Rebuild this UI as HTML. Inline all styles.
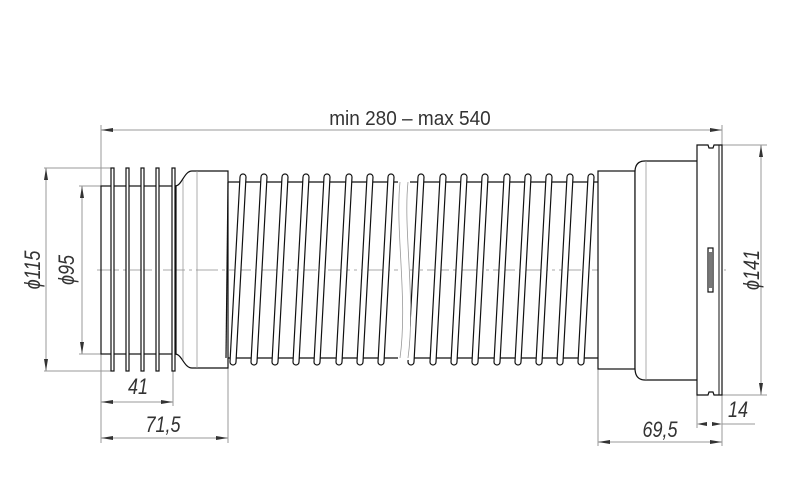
<!DOCTYPE html>
<html><head><meta charset="utf-8"><style>
html,body{margin:0;padding:0;background:#fff;}
svg{display:block;}
text{font-family:"Liberation Sans",sans-serif;fill:#333;}
</style></head><body>
<svg width="800" height="481" viewBox="0 0 800 481" xmlns="http://www.w3.org/2000/svg">
<defs>
<marker id="a" viewBox="0 0 12 6" refX="12" refY="3" markerWidth="12" markerHeight="6" orient="auto-start-reverse" markerUnits="userSpaceOnUse"><path d="M0,1 L12,3 L0,5 Z" fill="#333"/></marker>
</defs>
<g stroke="#999" stroke-width="1" fill="none">
<line x1="101" y1="125" x2="101" y2="443"/>
<line x1="722" y1="125" x2="722" y2="446"/>
<line x1="44" y1="168" x2="112" y2="168"/>
<line x1="44" y1="371" x2="112" y2="371"/>
<line x1="79" y1="186" x2="101" y2="186"/>
<line x1="79" y1="354" x2="101" y2="354"/>
<line x1="173" y1="371" x2="173" y2="406"/>
<line x1="228" y1="368" x2="228" y2="443"/>
<line x1="598" y1="368" x2="598" y2="446"/>
<line x1="697" y1="395" x2="697" y2="428"/>
<line x1="722" y1="145" x2="767" y2="145"/>
<line x1="722" y1="395" x2="767" y2="395"/>
<line x1="722" y1="424" x2="755" y2="424"/>
</g>
<g stroke="#999" stroke-width="1" fill="none" marker-start="url(#a)" marker-end="url(#a)">
<line x1="101" y1="130" x2="722" y2="130"/>
<line x1="46" y1="168" x2="46" y2="371"/>
<line x1="82" y1="186" x2="82" y2="354"/>
<line x1="101" y1="402" x2="173" y2="402"/>
<line x1="101" y1="438" x2="228" y2="438"/>
<line x1="598" y1="442" x2="722" y2="442"/>
<line x1="761" y1="145" x2="761" y2="395"/>
</g>
<path d="M697,424 l10,-2 v4z M722,424 l-10,-2 v4z" fill="#333"/>
<line x1="97" y1="270" x2="726" y2="270" stroke="#aaa" stroke-width="1" stroke-dasharray="22,4,3,4"/>
<g stroke="#111" stroke-width="1.2" fill="#fff">
<rect x="101" y="186" width="75" height="168" fill="none"/>
<rect x="111" y="168" width="3" height="203"/>
<rect x="126" y="168" width="3" height="203"/>
<rect x="141" y="168" width="3" height="203"/>
<rect x="156" y="168" width="3" height="203"/>
<rect x="172" y="168" width="3" height="203"/>
<path d="M175,186 C182,186 184,171 192,171 L228,171 L228,368 L192,368 C184,368 182,354 175,354" fill="none"/>
</g>
<line x1="183" y1="180" x2="183" y2="360" stroke="#999" stroke-width="0.8"/>
<line x1="197" y1="171" x2="197" y2="368" stroke="#999" stroke-width="0.8"/>
<g stroke="#111" stroke-width="1.2" fill="#fff">
<line x1="228" y1="182" x2="598" y2="182"/>
<line x1="228" y1="358" x2="598" y2="358"/>
<path d="M228,182 L226,358" fill="none"/>
<path d="M240,177 a3,3 0 0 1 6,0 L236,362 a3,3 0 0 1 -6,0 Z"/>
<path d="M261,177 a3,3 0 0 1 6,0 L257,362 a3,3 0 0 1 -6,0 Z"/>
<path d="M282,177 a3,3 0 0 1 6,0 L278,362 a3,3 0 0 1 -6,0 Z"/>
<path d="M303,177 a3,3 0 0 1 6,0 L299,362 a3,3 0 0 1 -6,0 Z"/>
<path d="M324,177 a3,3 0 0 1 6,0 L320,362 a3,3 0 0 1 -6,0 Z"/>
<path d="M346,177 a3,3 0 0 1 6,0 L342,362 a3,3 0 0 1 -6,0 Z"/>
<path d="M367,177 a3,3 0 0 1 6,0 L363,362 a3,3 0 0 1 -6,0 Z"/>
<path d="M388,177 a3,3 0 0 1 6,0 L384,362 a3,3 0 0 1 -6,0 Z"/>
<path d="M418,177 a3,3 0 0 1 6,0 L414,362 a3,3 0 0 1 -6,0 Z"/>
<path d="M440,177 a3,3 0 0 1 6,0 L436,362 a3,3 0 0 1 -6,0 Z"/>
<path d="M461,177 a3,3 0 0 1 6,0 L457,362 a3,3 0 0 1 -6,0 Z"/>
<path d="M482,177 a3,3 0 0 1 6,0 L478,362 a3,3 0 0 1 -6,0 Z"/>
<path d="M504,177 a3,3 0 0 1 6,0 L500,362 a3,3 0 0 1 -6,0 Z"/>
<path d="M525,177 a3,3 0 0 1 6,0 L521,362 a3,3 0 0 1 -6,0 Z"/>
<path d="M546,177 a3,3 0 0 1 6,0 L542,362 a3,3 0 0 1 -6,0 Z"/>
<path d="M567,177 a3,3 0 0 1 6,0 L563,362 a3,3 0 0 1 -6,0 Z"/>
<path d="M588,177 a3,3 0 0 1 6,0 L584,362 a3,3 0 0 1 -6,0 Z"/>
</g>
<rect x="398" y="180" width="12" height="180" fill="#fff"/>
<path d="M400,182 C395,230 408,300 400,358 M408,182 C403,230 416,300 408,358" stroke="#999" stroke-width="0.8" fill="none"/>
<g stroke="#111" stroke-width="1.2" fill="#fff">
<rect x="598" y="171" width="37" height="198"/>
<path d="M697,161 L645,161 Q635,161 635,172 L635,368 Q635,380 645,380 L697,380"/>
<path d="M697,145 L708,145 L709,148 L713,148 L714,145 L722,145 L722,395 L714,395 L713,392 L709,392 L708,395 L697,395 Z"/>
<rect x="708" y="248" width="5" height="44"/>
</g>
<line x1="646" y1="161" x2="646" y2="380" stroke="#999" stroke-width="0.8"/>
<line x1="719" y1="145" x2="719" y2="395" stroke="#111" stroke-width="1"/>
<rect x="709" y="252" width="3" height="36" fill="#777"/>
<text x="410" y="125" font-size="20" text-anchor="middle" transform="translate(410,0) scale(0.95,1) translate(-410,0)">min 280 – max 540</text>
<text font-size="22" font-style="italic" text-anchor="middle" transform="translate(40,270) rotate(-90) scale(0.82,1)">ϕ115</text>
<text font-size="22" font-style="italic" text-anchor="middle" transform="translate(74,270) rotate(-90) scale(0.82,1)">ϕ95</text>
<text font-size="22" font-style="italic" text-anchor="middle" transform="translate(759,270) rotate(-90) scale(0.82,1)">ϕ141</text>
<text font-size="22" font-style="italic" text-anchor="middle" transform="translate(138,394) scale(0.82,1)">41</text>
<text font-size="22" font-style="italic" text-anchor="middle" transform="translate(163,432) scale(0.82,1)">71,5</text>
<text font-size="22" font-style="italic" text-anchor="middle" transform="translate(660,437) scale(0.82,1)">69,5</text>
<text font-size="22" font-style="italic" text-anchor="middle" transform="translate(738,417) scale(0.82,1)">14</text>
</svg>
</body></html>
